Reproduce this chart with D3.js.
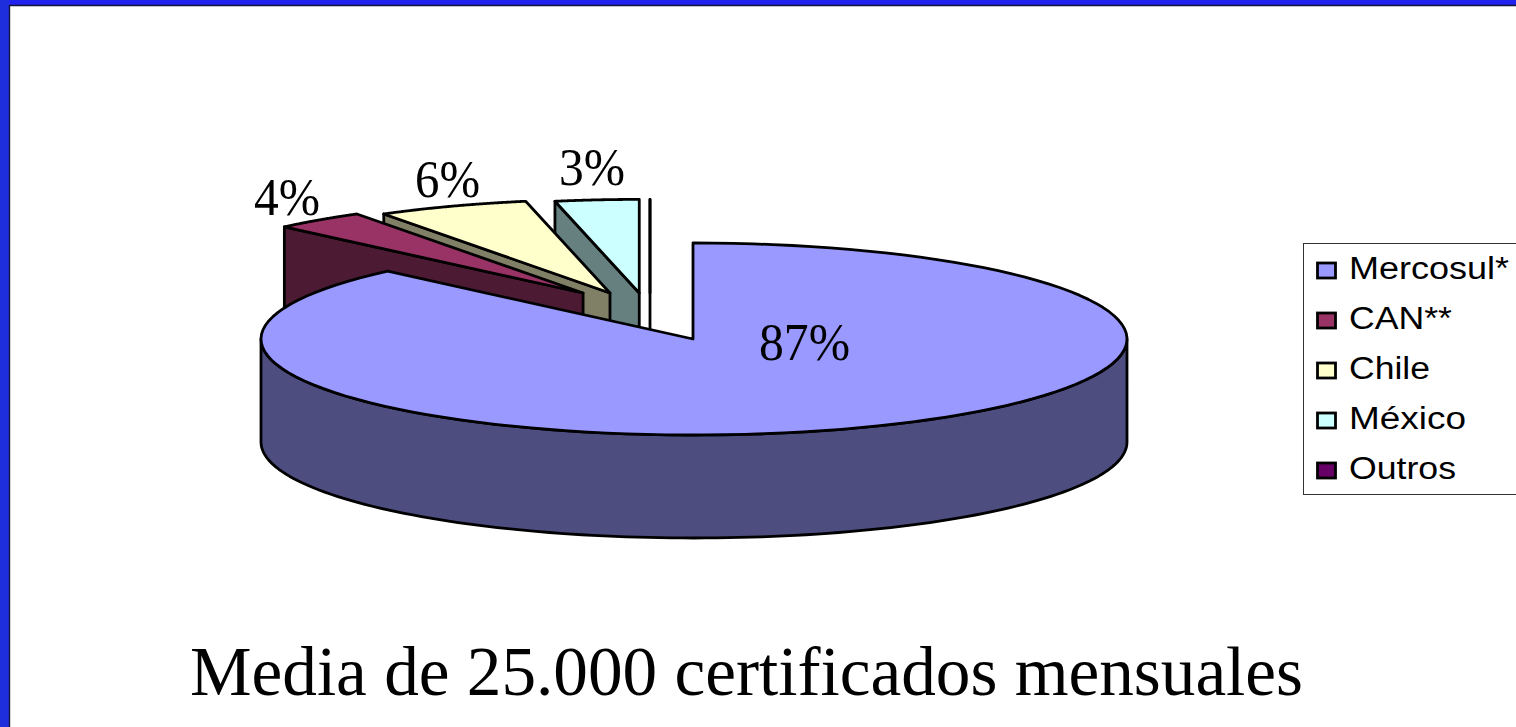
<!DOCTYPE html>
<html><head><meta charset="utf-8">
<script src="https://cdn.jsdelivr.net/npm/d3@7"></script>
<style>html,body{margin:0;padding:0;background:#fff;overflow:hidden}svg{display:block}</style>
</head><body><svg id="c" width="1516" height="727"></svg>
<script>
const categories = ["Mercosul*", "CAN**", "Chile", "México", "Outros"];
const shares = [87.49, 3.51, 5.8, 3.2, 0];
const colors = ["#9999FF", "#993366", "#FFFFCC", "#CCFFFF", "#660066"];
const title = "Media de 25.000 certificados mensuales";

const W = 1516, H = 727;
const cx = 694, cy = 339, rx = 433, ry = 96, depth = 103;
const svg = d3.select("#c");
const ink = "#000";

// frame
svg.append("rect").attr("width", W).attr("height", 5.5).attr("fill", "#2222EE");
svg.append("rect").attr("width", 9).attr("height", H).attr("fill", "#1E2EDC");
svg.append("path").attr("d", `M9.5,${H}V5.5H${W}`).attr("fill", "none").attr("stroke", "#16163a").attr("stroke-width", 1.4);

const x = d3.scaleLinear().domain([-1, 1]).range([cx - rx, cx + rx]);
const y = d3.scaleLinear().domain([-1, 1]).range([cy - ry, cy + ry]);
const color = d3.scaleOrdinal().domain(categories).range(colors);
const shade = c => { const k = d3.rgb(c); return d3.rgb(k.r * .5, k.g * .5, k.b * .5).formatHex(); };
const line = d3.line();

const arcs = d3.pie().sort(null).value(d => d.v)(categories.map((name, i) => ({ name, v: shares[i] })));

// exploded slices drift up and toward the left of the pie
const shift = (a, i) => {
  if (i === 0) return [-1, 0];
  const mid = (a.startAngle + a.endAngle) / 2;
  return [-44 + 107 * Math.sin(mid), -46];
};
const rim = (t, r, off) => [x(r * Math.sin(t)) + off[0], y(-r * Math.cos(t)) + off[1]];
const sample = (t0, t1) => d3.range(0, 121).map(k => t0 + (t1 - t0) * k / 120);

const g = svg.append("g").attr("stroke", ink).attr("stroke-width", 2.8).attr("stroke-linejoin", "round");

// back to front: Outros, México, Chile, CAN, then the large slice
[4, 3, 2, 1].forEach(i => {
  const a = arcs[i], off = shift(a, i), r = 0.975;
  const apex = [x(0) + off[0], y(0) + off[1]];
  const s = rim(a.startAngle, r, off);
  g.append("path").attr("fill", shade(color(a.data.name)))
    .attr("d", line([s, apex, [apex[0], apex[1] + depth], [s[0], s[1] + depth]]) + "Z");
  g.append("path").attr("fill", color(a.data.name))
    .attr("d", line([apex, ...sample(a.startAngle, a.endAngle).map(t => rim(t, r, off))]) + "Z");
});

const big = arcs[0], zero = [0, 0];
const front = sample(Math.PI / 2, Math.PI * 1.5).map(t => rim(t, 1, zero));
g.append("path").attr("fill", shade(color(big.data.name)))
  .attr("d", line([...front, ...front.slice().reverse().map(p => [p[0], p[1] + depth])]) + "Z");
g.append("path").attr("fill", color(big.data.name))
  .attr("d", line([[x(0) - 1, y(0)], ...sample(big.startAngle, big.endAngle).map(t => rim(t, 1, big.startAngle === 0 && t < 0.02 ? [-1, 0] : zero))]) + "Z");

// percentage labels
const labelAt = [[759, 360, 91], [254, 215, 66], [415, 197, 65], [559, 185, 66]];
labelAt.forEach((p, i) => {
  svg.append("text").attr("x", p[0]).attr("y", p[1])
    .attr("font-family", "'Liberation Serif'").attr("font-size", 53).attr("fill", ink)
    .attr("textLength", p[2]).attr("lengthAdjust", "spacingAndGlyphs")
    .text(Math.round(shares[i]) + "%");
});

// legend
const legX = 1303, legY = 243, legH = 251;
svg.append("rect").attr("x", legX + .5).attr("y", legY + .5).attr("width", W).attr("height", legH)
  .attr("fill", "#fff").attr("stroke", "#333").attr("stroke-width", 1);
const row = d3.scalePoint().domain(categories).range([legY + 27.5, legY + 227.5]);
const legWidths = [160, 103, 81, 117, 107];
categories.forEach((name, i) => {
  svg.append("rect").attr("x", 1317.5).attr("y", row(name) - 7.5).attr("width", 18).attr("height", 15)
    .attr("fill", color(name)).attr("stroke", ink).attr("stroke-width", 2.8);
  svg.append("text").attr("x", 1349).attr("y", row(name) + 8.5)
    .attr("font-family", "'Liberation Sans'").attr("font-size", 31).attr("fill", ink)
    .attr("textLength", legWidths[i]).attr("lengthAdjust", "spacingAndGlyphs")
    .text(name);
});

// caption
svg.append("text").attr("x", 190).attr("y", 695)
  .attr("font-family", "'Liberation Serif'").attr("font-size", 70).attr("fill", ink)
  .attr("textLength", 1113).attr("lengthAdjust", "spacingAndGlyphs")
  .text(title);
</script></body></html>
